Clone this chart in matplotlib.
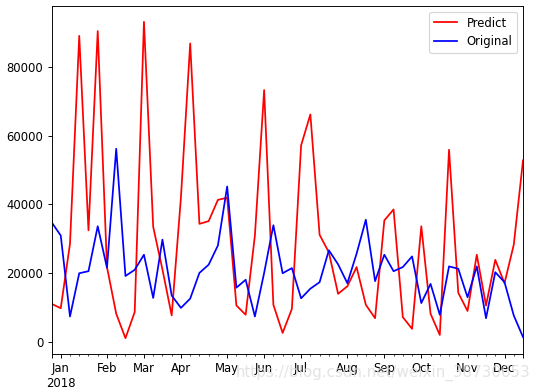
import matplotlib
matplotlib.use('Agg')
import matplotlib.pyplot as plt
import pandas as pd

# weekly dates (Mondays), 2017-12-25 .. 2018-12-17
start_date = '2017-12-25'
n_weeks = 52

predict = [11000, 9700, 28500, 89100, 32400, 90500, 21700, 8100, 970, 8600,
           93200, 33400, 21000, 7600, 42000, 86900, 34300, 35100, 41300, 41900,
           10500, 7800, 30900, 73300, 10700, 2500, 9500, 57200, 66200, 31100,
           26000, 13900, 16100, 21700, 10700, 6800, 35300, 38500, 7100, 3700,
           33600, 8100, 1900, 55900, 14200, 8900, 25300, 10500, 23800, 17000,
           28200, 52800]

original = [34800, 30900, 7300, 19900, 20500, 33600, 21500, 56200, 19100, 20900,
            25300, 12700, 29700, 13400, 9800, 12500, 20000, 22400, 28000, 45200,
            15700, 18000, 7300, 20000, 33900, 19900, 21400, 12600, 15400, 17300,
            26600, 22500, 17000, 25600, 35500, 17600, 25300, 20500, 21700, 24800,
            11200, 16800, 7800, 21900, 21200, 12900, 21900, 6800, 20200, 17300,
            7600, 1300]

dates = pd.date_range(start_date, periods=n_weeks, freq='W-MON')
df = pd.DataFrame({'Predict': predict, 'Original': original}, index=dates)

fig = plt.figure(figsize=(538 / 84, 390 / 84), dpi=84)
ax = fig.add_axes([51.5 / 538, 1 - 354 / 390, (523 - 51.5) / 538, (354 - 6) / 390])

df['Predict'].plot(ax=ax, color='r', label='Predict')
df['Original'].plot(ax=ax, color='b', label='Original')
ax.legend(loc='upper right')

# faint watermark
fig.text(0.985, 0.045, 'https://blog.csdn.net/weixin_38730653', ha='right', va='center',
         fontsize=13, color='#dddddd', alpha=0.8)

fig.savefig('out.png', dpi=84)
